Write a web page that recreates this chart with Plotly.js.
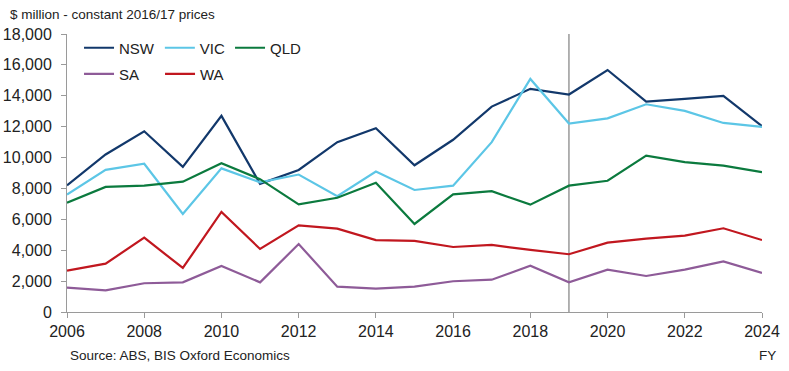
<!DOCTYPE html>
<html>
<head>
<meta charset="utf-8">
<script src="https://cdn.plot.ly/plotly-3.0.1.min.js"></script>
<style>html,body{margin:0;padding:0;background:#fff;}#chart{width:789px;height:371px;}</style>
</head>
<body>
<div id="chart"></div>
<script>
const years = [2006,2007,2008,2009,2010,2011,2012,2013,2014,2015,2016,2017,2018,2019,2020,2021,2022,2023,2024];
const nsw = [8200,10200,11700,9400,12700,8300,9200,11000,11900,9500,11150,13300,14450,14080,15670,13620,13800,14000,12030];
const vic = [7600,9200,9600,6350,9300,8400,8900,7500,9100,7900,8180,11000,15090,12200,12540,13450,13020,12240,11980];
const qld = [7080,8100,8180,8440,9630,8600,6970,7400,8370,5700,7620,7820,6950,8180,8500,10120,9700,9480,9050];
const sa  = [1580,1400,1860,1920,2980,1920,4400,1640,1510,1640,1990,2090,3000,1920,2740,2330,2740,3280,2530];
const wa  = [2680,3130,4810,2850,6480,4080,5610,5400,4660,4600,4210,4340,4020,3740,4490,4750,4940,5420,4660];
const seriesNames = ['NSW','VIC','QLD','SA','WA'];
const forecastStart = 2019;
const yTicks = [0,2000,4000,6000,8000,10000,12000,14000,16000,18000];
const xTicks = [2006,2008,2010,2012,2014,2016,2018,2020,2022,2024];

const colors = ['#12386B','#5CC6E6','#0B7A3E','#8E5B98','#C1171F'];
const data = [nsw,vic,qld,sa,wa];
const legends = ['legend','legend','legend','legend2','legend2'];

const traces = data.map((vals,i)=>({
  x: years, y: vals, type:'scatter', mode:'lines', name: seriesNames[i],
  line:{color:colors[i], width:2.2}, legend: legends[i]
}));

const layout = {
  width:789, height:371,
  margin:{l:67,r:27,t:34,b:59},
  paper_bgcolor:'#fff', plot_bgcolor:'#fff',
  font:{family:'Liberation Sans, Arial, sans-serif', color:'#222', size:16},
  title:{text:'$ million - constant 2016/17 prices', x:10/789, xref:'container', xanchor:'left', y:1-14/371, yref:'container', yanchor:'middle', font:{size:13.5, color:'#222'}},
  xaxis:{range:[2006,2024], tickvals:xTicks, ticktext:xTicks.map(String), showgrid:false, zeroline:false,
    showline:true, linecolor:'#9a9a9a', linewidth:1, ticks:'outside', ticklen:5, tickcolor:'#9a9a9a',
    tickfont:{size:16, color:'#222'}},
  yaxis:{range:[0,18000], tickvals:yTicks, ticktext:yTicks.map(v=>v.toLocaleString('en-US')), showgrid:false, zeroline:false,
    showline:true, linecolor:'#9a9a9a', linewidth:1, ticks:'outside', ticklen:5, tickcolor:'#9a9a9a',
    tickfont:{size:16, color:'#222'}, ticklabelstandoff:6},
  legend:{orientation:'h', x:0.0173, xanchor:'left', y:0.9496, yanchor:'middle', bgcolor:'rgba(0,0,0,0)', font:{size:15,color:'#222'}, traceorder:'normal'},
  legend2:{orientation:'h', x:0.0173, xanchor:'left', y:0.856, yanchor:'middle', bgcolor:'rgba(0,0,0,0)', font:{size:15,color:'#222'}, traceorder:'normal', entrywidth:36, entrywidthmode:'pixels'},
  shapes:[{type:'line', xref:'x', yref:'paper', x0:forecastStart, x1:forecastStart, y0:0, y1:1, line:{color:'#999', width:1.5}, layer:'below'}],
  annotations:[
    {text:'Source: ABS, BIS Oxford Economics', xref:'paper', yref:'paper', x:0, xanchor:'left', y:0, yanchor:'middle', yshift:-43, xshift:1, showarrow:false, font:{size:13.5,color:'#222'}},
    {text:'FY', xref:'paper', yref:'paper', x:1, xanchor:'right', y:0, yanchor:'middle', yshift:-43, xshift:16, showarrow:false, font:{size:13.5,color:'#222'}}
  ],
  showlegend:true
};
Plotly.newPlot('chart', traces, layout, {displayModeBar:false, staticPlot:true});
</script>
</body>
</html>
